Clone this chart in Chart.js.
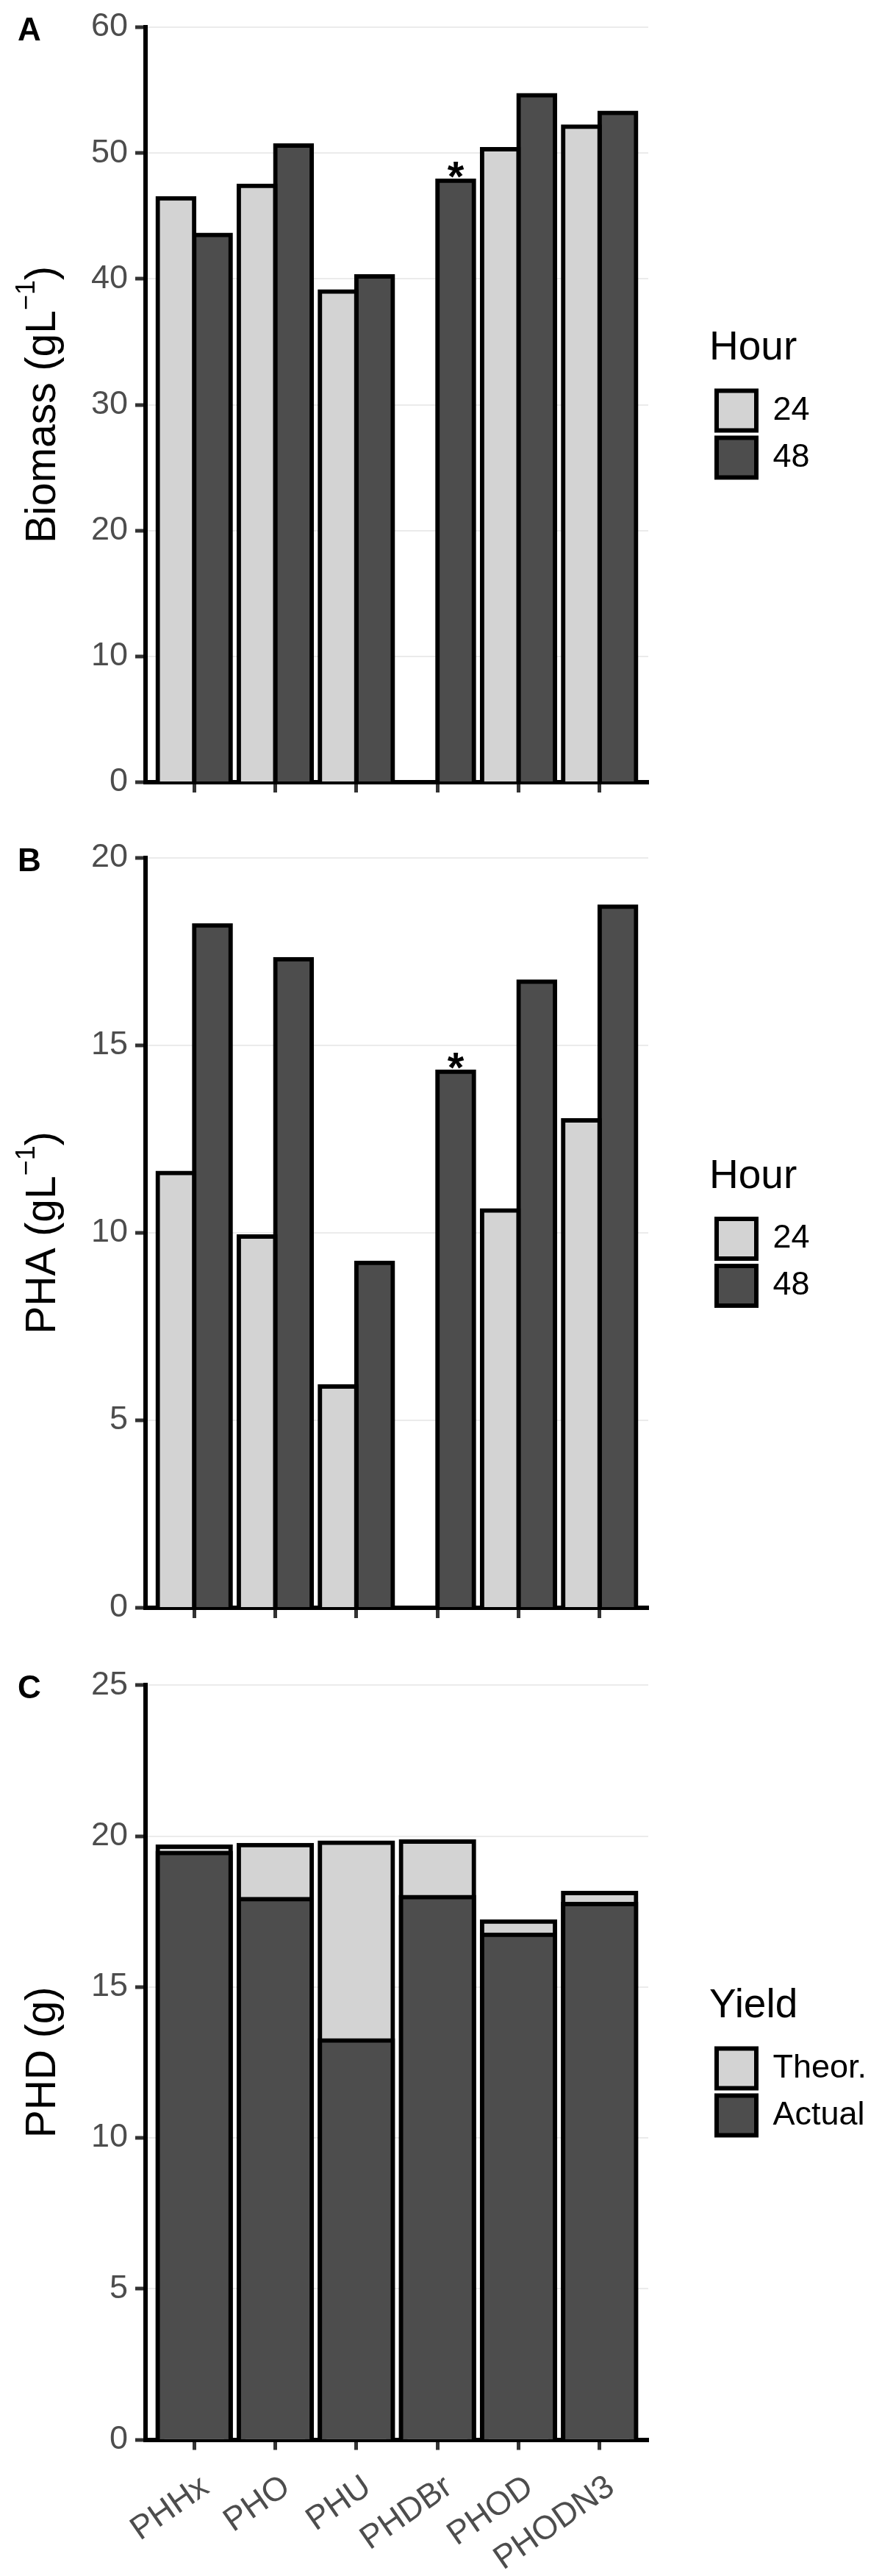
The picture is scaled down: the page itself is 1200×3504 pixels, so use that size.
<!DOCTYPE html>
<html>
<head>
<meta charset="utf-8">
<script src="https://cdn.jsdelivr.net/npm/chart.js@4.4.1/dist/chart.umd.min.js"></script>
<style>
  html, body { margin: 0; padding: 0; background: #ffffff; }
  body { width: 1200px; height: 3504px; position: relative; overflow: hidden; }
  canvas { position: absolute; left: 0; }
</style>
</head>
<body>
<canvas id="cA" style="top:0px" width="1200" height="1130"></canvas>
<canvas id="cB" style="top:1130px" width="1200" height="1120"></canvas>
<canvas id="cC" style="top:2250px" width="1200" height="1254"></canvas>
<script>
// ---------------- data ----------------
const categories = ['PHHx', 'PHO', 'PHU', 'PHDBr', 'PHOD', 'PHODN3'];
const hourLabels = ['24', '48'];
const biomass24 = [46.4, 47.4, 39.0, null, 50.3, 52.1];
const biomass48 = [43.5, 50.6, 40.2, 47.8, 54.6, 53.2];
const pha24 = [11.6, 9.9, 5.9, null, 10.6, 13.0];
const pha48 = [18.2, 17.3, 9.2, 14.3, 16.7, 18.7];
const yieldLabels = ['Theor.', 'Actual'];
const phdTheor = [19.65, 19.70, 19.78, 19.82, 17.17, 18.11];
const phdActual = [19.44, 17.91, 13.23, 17.98, 16.73, 17.75];
const signif48 = ['', '', '', '*', '', ''];
const biomassTicks = [0, 60, 10];
const phaTicks = [0, 20, 5];
const phdTicks = [0, 25, 5];
// axis titles: [text, isSuperscript]
const biomassTitle = [['Biomass (gL', 0], ['\u22121', 1], [')', 0]];
const phaTitle = [['PHA (gL', 0], ['\u22121', 1], [')', 0]];
const phdTitle = [['PHD (g)', 0]];

// ---------------- style ----------------
const FONT = '"Liberation Sans", Arial, Helvetica, sans-serif';
const LIGHT = '#D3D3D3';
const DARK = '#4D4D4D';
const Y_AXIS_W = 198;
const PLOT_RIGHT = 882;
const GAP_R = 83;
const BOX_W = 54, BOX_H = 54, LEG_PAD = 10, LEG_FONT = 45;
const TICK_FONT = 45;

function toXY(arr) { return arr.map((v, i) => ({ x: i, y: v })); }

function legendWidth(labels) {
  const ctx = document.createElement('canvas').getContext('2d');
  ctx.font = `normal ${LEG_FONT}px ${FONT}`;
  const tw = Math.max(...labels.map(t => ctx.measureText(t).width));
  return LEG_PAD + BOX_W + LEG_FONT / 2 + tw + 10;
}

const panelPlugin = {
  id: 'panelDecor',
  afterLayout(chart) {
    const lg = chart.legend;
    if (lg) { lg.left += GAP_R; lg.right += GAP_R; }
  },
  afterDraw(chart, args, opts) {
    const ctx = chart.ctx;
    const ys = chart.scales.y;
    const area = chart.chartArea;
    ctx.save();
    ctx.fillStyle = '#000';
    ctx.textAlign = 'left';
    ctx.textBaseline = 'alphabetic';
    // panel tag
    ctx.font = `bold 44px ${FONT}`;
    ctx.fillText(opts.tag, 24, ys.getPixelForValue(ys.max) + 18);
    // y-axis title with superscript
    const MAIN = `normal 57px ${FONT}`, SUP = `normal 36px ${FONT}`;
    let total = 0;
    opts.title.forEach(([t, s]) => { ctx.font = s ? SUP : MAIN; total += ctx.measureText(t).width; });
    ctx.save();
    ctx.translate(75, (area.top + area.bottom) / 2);
    ctx.rotate(-Math.PI / 2);
    let x = -total / 2;
    opts.title.forEach(([t, s]) => {
      ctx.font = s ? SUP : MAIN;
      ctx.fillText(t, x, s ? -28 : 0);
      x += ctx.measureText(t).width;
    });
    ctx.restore();
    // significance marks
    if (opts.marks) {
      const meta = chart.getDatasetMeta(opts.markDataset);
      ctx.textAlign = 'center';
      ctx.font = `bold 58px ${FONT}`;
      opts.marks.forEach((m, i) => {
        if (!m) return;
        const el = meta.data[i];
        ctx.fillText(m, el.x, el.y + 14);
      });
    }
    ctx.restore();
  }
};

function makeChart(id, cfg) {
  const legW = legendWidth(cfg.legendLabels);
  const padR = 1200 - PLOT_RIGHT - legW;
  return new Chart(document.getElementById(id), {
    type: 'bar',
    data: { datasets: cfg.datasets },
    plugins: [panelPlugin],
    options: {
      responsive: false,
      animation: false,
      layout: { padding: { top: cfg.top, left: 0, right: padR, bottom: 0 } },
      datasets: { bar: { categoryPercentage: 0.9, barPercentage: 1.0 } },
      scales: {
        x: {
          type: 'linear',
          min: -0.6,
          max: categories.length - 1 + 0.6,
          offset: false,
          stacked: cfg.stackedX,
          z: 1,
          afterBuildTicks: (s) => { s.ticks = categories.map((c, i) => ({ value: i })); },
          afterFit: (s) => { s.height = cfg.xHeight; },
          grid: { offset: false, drawOnChartArea: false, drawTicks: true, tickLength: 14, tickColor: '#333333', tickWidth: 5 },
          border: { display: true, color: '#000', width: 6 },
          ticks: {
            display: cfg.showX,
            autoSkip: false,
            minRotation: 35,
            maxRotation: 35,
            padding: 24,
            showLabelBackdrop: true,
            backdropColor: 'rgba(255,255,255,0)',
            backdropPadding: 0,
            color: '#4D4D4D',
            font: { size: TICK_FONT, family: FONT },
            callback: (v) => categories[v]
          }
        },
        y: {
          min: cfg.yTicks[0],
          max: cfg.yTicks[1],
          stacked: false,
          afterFit: (s) => { s.width = Y_AXIS_W; },
          grid: { color: '#EBEBEB', lineWidth: 2, drawTicks: true, tickLength: 14, tickColor: '#333333', tickWidth: 5 },
          border: { display: true, color: '#000', width: 6 },
          ticks: { stepSize: cfg.yTicks[2], padding: 10, color: '#4D4D4D', font: { size: TICK_FONT, family: FONT } },
          title: { display: false }
        }
      },
      plugins: {
        tooltip: { enabled: false },
        legend: {
          position: 'right',
          align: 'center',
          fullSize: false,
          labels: {
            boxWidth: BOX_W, boxHeight: BOX_H, padding: LEG_PAD, color: '#000',
            font: { size: LEG_FONT, family: FONT },
            sort: (a, b) => a.datasetIndex - b.datasetIndex
          },
          title: { display: true, text: cfg.legendTitle, position: 'start', color: '#000',
                   font: { size: 55, family: FONT, lineHeight: 1 }, padding: { top: 5, bottom: 20 } }
        },
        panelDecor: { tag: cfg.tag, marks: cfg.marks, markDataset: 1, title: cfg.yTitle }
      }
    }
  });
}

function barDs(label, values, color, extra) {
  return Object.assign({
    label: label, data: toXY(values), backgroundColor: color, borderColor: '#000',
    borderWidth: 6, inflateAmount: 3, borderSkipped: 'start'
  }, extra || {});
}

makeChart('cA', {
  tag: 'A', top: 35, xHeight: 66, showX: false, stackedX: false,
  yTicks: biomassTicks, yTitle: biomassTitle, legendTitle: 'Hour', legendLabels: hourLabels,
  marks: signif48,
  datasets: [barDs(hourLabels[0], biomass24, LIGHT), barDs(hourLabels[1], biomass48, DARK)]
});

makeChart('cB', {
  tag: 'B', top: 32.5, xHeight: 63, showX: false, stackedX: false,
  yTicks: phaTicks, yTitle: phaTitle, legendTitle: 'Hour', legendLabels: hourLabels,
  marks: signif48,
  datasets: [barDs(hourLabels[0], pha24, LIGHT), barDs(hourLabels[1], pha48, DARK)]
});

makeChart('cC', {
  tag: 'C', top: 42.3, xHeight: 185.5, showX: true, stackedX: true,
  yTicks: phdTicks, yTitle: phdTitle, legendTitle: 'Yield', legendLabels: yieldLabels,
  marks: null,
  datasets: [barDs(yieldLabels[0], phdTheor, LIGHT, { order: 2 }), barDs(yieldLabels[1], phdActual, DARK, { order: 1 })]
});
</script>
</body>
</html>
